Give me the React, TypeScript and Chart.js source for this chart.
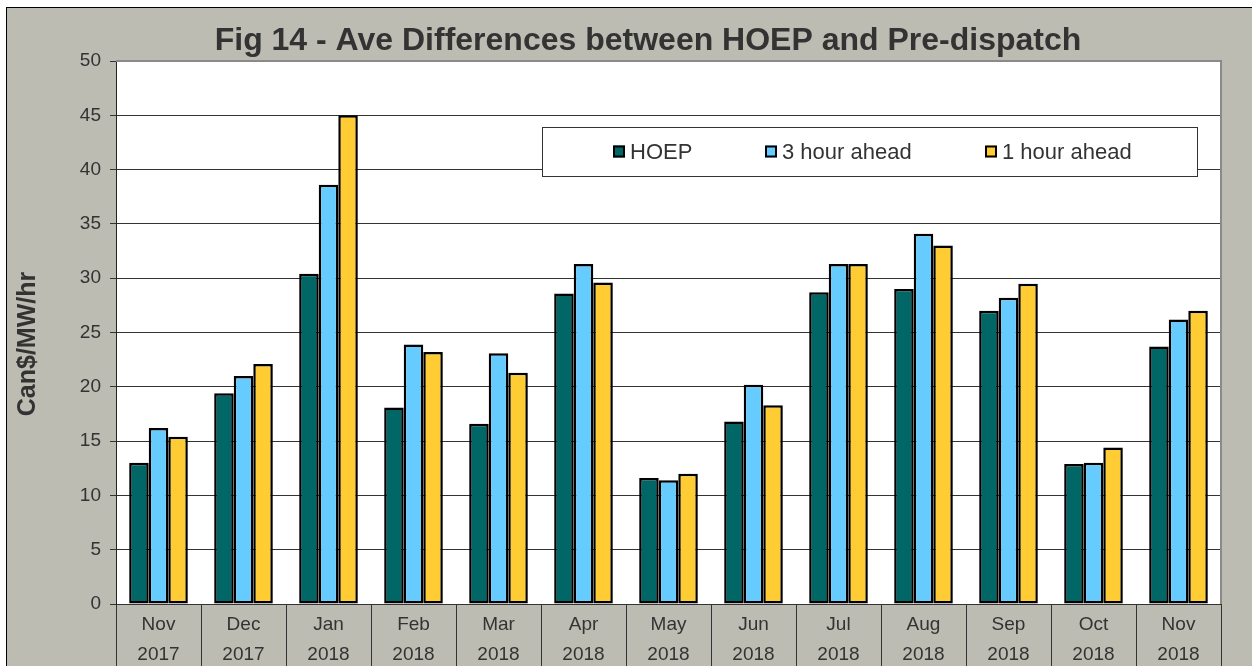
import React, { useEffect, useRef } from "react";
import { Chart, registerables } from "chart.js";

Chart.register(...registerables);

const months = ["Nov", "Dec", "Jan", "Feb", "Mar", "Apr", "May", "Jun", "Jul", "Aug", "Sep", "Oct", "Nov"];
const years = ["2017", "2017", "2018", "2018", "2018", "2018", "2018", "2018", "2018", "2018", "2018", "2018", "2018"];
const hoep = [13.0, 19.4, 30.4, 18.1, 16.6, 28.6, 11.6, 16.8, 28.7, 29.0, 27.0, 12.9, 23.7];
const threeHourAhead = [16.2, 21.0, 38.6, 23.9, 23.1, 31.3, 11.4, 20.2, 31.3, 34.1, 28.2, 13.0, 26.2];
const oneHourAhead = [15.4, 22.1, 45.0, 23.2, 21.3, 29.6, 12.0, 18.3, 31.3, 33.0, 29.5, 14.4, 27.0];
const seriesNames = ["HOEP", "3 hour ahead", "1 hour ahead"];
const yTicks = [0, 5, 10, 15, 20, 25, 30, 35, 40, 45, 50];

const FONT = "'Liberation Sans', Arial, sans-serif";
const TEXT = "#333333";
const BG = "#BCBCB2";
const COLORS = ["#006666", "#66CCFF", "#FFCC33"];

const decorPlugin = {
  id: "decor",
  beforeDraw(chart: any) {
    const { ctx, chartArea: a, width, height } = chart;
    ctx.save();
    ctx.fillStyle = BG;
    ctx.fillRect(0, 0, width, height);
    ctx.fillStyle = "#ffffff";
    ctx.fillRect(a.left, a.top, a.right - a.left, a.bottom - a.top);
    ctx.restore();
  },
  afterDraw(chart: any) {
    const { ctx, chartArea: a } = chart;
    ctx.save();
    // plot top/right border
    ctx.strokeStyle = "#8a8a8a";
    ctx.lineWidth = 2;
    ctx.beginPath();
    ctx.moveTo(a.left, a.top);
    ctx.lineTo(a.right, a.top);
    ctx.lineTo(a.right, a.bottom);
    ctx.stroke();

    // title
    ctx.fillStyle = TEXT;
    ctx.font = `bold 32px ${FONT}`;
    ctx.textAlign = "center";
    ctx.textBaseline = "middle";
    ctx.fillText("Fig 14 - Ave Differences between HOEP and Pre-dispatch", 641, 33);

    // y-axis title
    ctx.save();
    ctx.translate(21, 336);
    ctx.rotate(-Math.PI / 2);
    ctx.font = `bold 25px ${FONT}`;
    ctx.fillText("Can$/MW/hr", 0, 0);
    ctx.restore();

    // legend
    const bx = 535, by = 119, bw = 655, bh = 49;
    ctx.fillStyle = "#ffffff";
    ctx.fillRect(bx, by, bw, bh);
    ctx.strokeStyle = "#333333";
    ctx.lineWidth = 1;
    ctx.strokeRect(bx + 0.5, by + 0.5, bw, bh);
    const markerX = [606, 758, 978];
    const cy = by + bh / 2;
    ctx.font = `22px ${FONT}`;
    ctx.textAlign = "left";
    ctx.textBaseline = "middle";
    chart.data.datasets.forEach((ds: any, i: number) => {
      const mx = markerX[i];
      ctx.fillStyle = ds.backgroundColor;
      ctx.fillRect(mx, cy - 6, 12, 12);
      ctx.strokeStyle = "#000000";
      ctx.lineWidth = 2;
      ctx.strokeRect(mx + 1, cy - 5, 10, 10);
      ctx.fillStyle = TEXT;
      ctx.fillText(ds.label, mx + 17, cy + 1);
    });
    ctx.restore();
  },
};

export default function App() {
  const ref = useRef<HTMLCanvasElement | null>(null);

  useEffect(() => {
    document.body.style.margin = "0";
    const canvas = ref.current;
    if (!canvas) return;
    const labels = months.map((m, i) => [m, years[i]]);
    const values = [hoep, threeHourAhead, oneHourAhead];
    const chart = new Chart(canvas, {
      type: "bar",
      data: {
        labels,
        datasets: values.map((v, i) => ({
          label: seriesNames[i],
          data: v,
          backgroundColor: COLORS[i],
          borderColor: "#000000",
          borderWidth: 2.5,
          borderSkipped: false,
          categoryPercentage: 0.69,
          barPercentage: 1.0,
        })),
      },
      options: {
        responsive: false,
        animation: false,
        layout: { padding: { top: 53, right: 31, bottom: 0, left: 0 } },
        plugins: {
          legend: { display: false },
          title: { display: false },
          tooltip: { enabled: false },
        },
        scales: {
          x: {
            offset: true,
            grid: {
              offset: true,
              drawOnChartArea: false,
              drawTicks: true,
              tickLength: 62,
              color: "#333333",
              lineWidth: 1,
            },
            border: { color: "#333333", width: 1 },
            ticks: {
              color: TEXT,
              font: { family: FONT, size: 19, lineHeight: 30 / 19 },
              padding: -56,
              maxRotation: 0,
              autoSkip: false,
            },
            afterFit: (s: any) => {
              s.height = 62;
            },
          },
          y: {
            min: 0,
            max: 50,
            afterBuildTicks: (s: any) => {
              s.ticks = yTicks.map((v) => ({ value: v }));
            },
            grid: { color: "#333333", lineWidth: 1, tickLength: 6, drawTicks: true },
            border: { color: "#222222", width: 1 },
            ticks: {
              color: TEXT,
              font: { family: FONT, size: 19 },
              padding: 9,
            },
            afterFit: (s: any) => {
              s.width = 109;
            },
          },
        },
      },
      plugins: [decorPlugin],
    });
    return () => chart.destroy();
  }, []);

  return (
    <div style={{ position: "relative", width: 1252, height: 666, overflow: "hidden", background: "#ffffff" }}>
      <div
        style={{
          position: "absolute",
          left: 6,
          top: 7,
          width: 1246,
          height: 659,
          boxSizing: "border-box",
          borderTop: "1px solid #000",
          borderLeft: "1px solid #000",
          background: BG,
        }}
      >
        <canvas ref={ref} width={1245} height={658} style={{ display: "block" }} />
      </div>
    </div>
  );
}
